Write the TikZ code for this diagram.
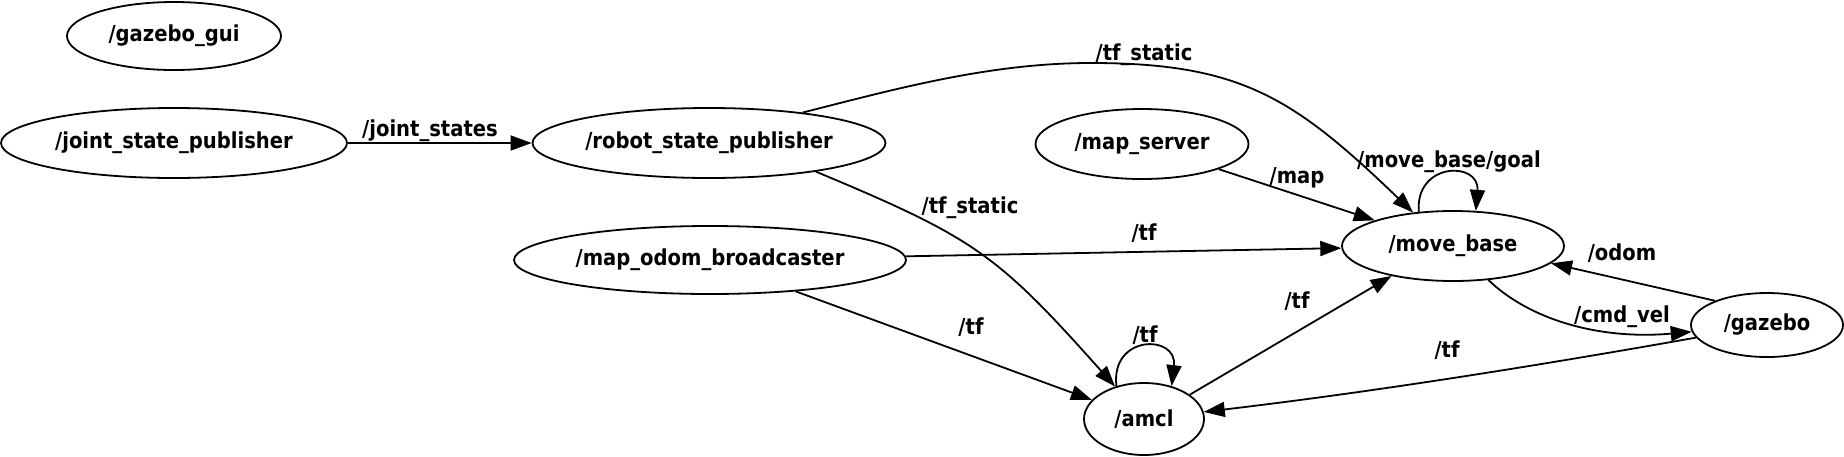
\documentclass[tikz,border=0pt]{standalone}
\usepackage{fontspec}
\newfontfamily\lblfont{DejaVu Sans}[FakeStretch=0.89]
\usetikzlibrary{arrows.meta,shapes.geometric}
\begin{document}
\begin{tikzpicture}[x=1pt,y=-1pt,
  nd/.style={ellipse, draw, line width=1.8pt, inner sep=0pt, font=\lblfont\bfseries\fontsize{22}{26}\selectfont},
  edge/.style={line width=1.8pt, -{Triangle[length=21pt,width=15pt]}},
  lbl/.style={anchor=base, inner sep=0pt, font=\lblfont\bfseries\fontsize{22}{26}\selectfont}]
\useasboundingbox (0,0) rectangle (1844,456);
% nodes
\node[nd, minimum width=214pt, minimum height=68pt] (gg) at (174,36) {/gazebo\_gui};
\node[nd, minimum width=346pt, minimum height=70pt] (jsp) at (174,143) {/joint\_state\_publisher};
\node[nd, minimum width=353pt, minimum height=70pt] (rsp) at (709,143) {/robot\_state\_publisher};
\node[nd, minimum width=213pt, minimum height=70pt] (ms) at (1142,144) {/map\_server};
\node[nd, minimum width=392pt, minimum height=68pt] (mob) at (710,260) {/map\_odom\_broadcaster};
\node[nd, minimum width=222pt, minimum height=70pt] (mb) at (1453,246) {/move\_base};
\node[nd, minimum width=152pt, minimum height=64pt] (gz) at (1767,325) {/gazebo};
\node[nd, minimum width=120pt, minimum height=72pt] (amcl) at (1144,419) {/amcl};
% edges
\draw[edge] (jsp) -- (rsp);
\draw[edge] (rsp.18) .. controls (899,88) and (991,63) .. (1091,63) .. controls (1241,63) and (1294,98) .. (mb.140);
\draw[edge] (rsp.-15) .. controls (975,238) and (997,254) .. (amcl);
\draw[edge] (ms) -- (mb);
\draw[edge] (mb.135) .. controls +(-4,-50) and +(4,-50) .. (mb.57);
\draw[edge] (mob) -- (mb);
\draw[edge] (mob) -- (amcl);
\draw[edge] (amcl.130) .. controls +(-6,-52) and +(6,-52) .. (amcl.50);
\draw[edge] (amcl.28) -- (mb.206);
\draw[edge] (gz.155) -- (mb.-10);
\draw[edge] (mb) .. controls (1530,320) and (1600,340) .. (gz);
\draw[edge] (gz) .. controls (1536,366) and (1372,392) .. (amcl);
% labels
\node[lbl] (l1) at (430,136) {/joint\_states};
\node[lbl] (l2) at (1144,60) {/tf\_static};
\node[lbl] (l3) at (970,213) {/tf\_static};
\node[lbl] (l4) at (1297,183) {/map};
\node[lbl] (l5) at (1449,167) {/move\_base/goal};
\node[lbl] (l6) at (1144,240) {/tf};
\node[lbl] (l7) at (971,334) {/tf};
\node[lbl] (l8) at (1145,342) {/tf};
\node[lbl] (l9) at (1297,308) {/tf};
\node[lbl] (l10) at (1622,260) {/odom};
\node[lbl] (l11) at (1622,322) {/cmd\_vel};
\node[lbl] (l12) at (1447,357) {/tf};
\end{tikzpicture}
\end{document}
